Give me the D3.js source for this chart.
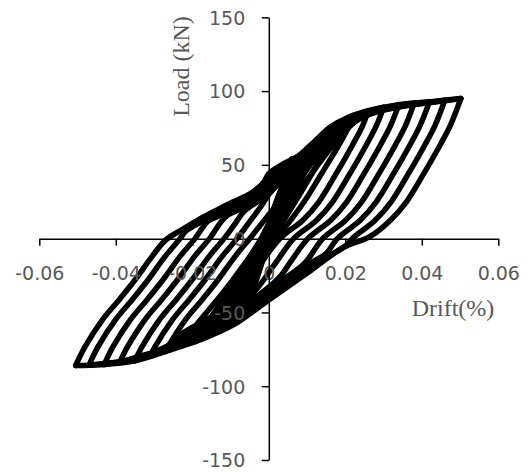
<!DOCTYPE html>
<html><head><meta charset="utf-8">
<script src="https://cdn.jsdelivr.net/npm/d3@7"></script>
<style>body{margin:0;background:#fff} svg{display:block}</style>
</head><body><svg id="c" width="530" height="472"></svg>
<script>
const xTicks = [-0.06,-0.04,-0.02,0,0.02,0.04,0.06];
const yTicks = [-150,-100,-50,0,50,100,150];
const xTitle = "Drift(%)";
const yTitle = "Load (kN)";

// Hysteresis loops: [drift, load], one half-cycle per array
const virgin = [[0,0],[0.003,28],[0.006,53.9]];
const down11 = [[0.006,53.9],[0.0045,41],[0.0025,24],[0.0005,5],[-0.0015,-14],[-0.0035,-30],[-0.0055,-44],[-0.007,-54.3]];
const up11 = [[-0.007,-54.3],[-0.006,-44],[-0.0045,-30],[-0.0025,-13],[-0.0005,5],[0.0015,22],[0.004,38],[0.007,50],[0.010,61.1]];
const down10 = [[0.010,61.1],[0.0085,51],[0.0055,33],[0.0025,14],[0,-2],[-0.003,-20],[-0.0065,-40],[-0.011,-60.5]];
const up10 = [[-0.011,-60.5],[-0.0095,-50],[-0.0065,-32],[-0.0035,-14],[-0.001,2],[0.002,20],[0.0055,38],[0.009,53],[0.012,63],[0.014,70.7]];
const down9 = [[0.014,70.7],[0.0125,61],[0.009,43],[0.005,23],[0.0015,5],[-0.002,-13],[-0.006,-32],[-0.0105,-50],[-0.015,-65.1]];
const up9 = [[-0.015,-65.1],[-0.0125,-52],[-0.009,-36],[-0.0055,-18],[-0.002,0],[0.002,20],[0.006,38],[0.01,54],[0.014,67],[0.018,78.4]];
const down8 = [[0.018,78.4],[0.0165,69],[0.013,52],[0.009,34],[0.005,17],[0.001,0],[-0.003,-16],[-0.007,-32],[-0.011,-47],[-0.015,-59],[-0.019,-69.5]];
const up8 = [[-0.019,-69.5],[-0.0155,-55],[-0.011,-37],[-0.0065,-19],[-0.002,0],[0.002,16],[0.006,32],[0.01,47],[0.014,60],[0.018,72],[0.022,83.3]];
const down7 = [[0.022,83.3],[0.0205,74],[0.018,62],[0.014,45],[0.0095,26],[0.005,10],[0,-6],[-0.005,-22],[-0.01,-38],[-0.015,-53],[-0.019,-64],[-0.023,-73]];
const up7 = [[-0.023,-73],[-0.0185,-57],[-0.014,-43],[-0.01,-30],[-0.0055,-14],[-0.0015,0],[0.002,12],[0.006,26],[0.01,40],[0.014,54],[0.018,67],[0.022,78],[0.026,86.6]];
const down6 = [[0.026,86.6],[0.0246,77],[0.022,64],[0.0176,44],[0.0131,25],[0.0089,12.5],[0.0029,0],[-0.0035,-22],[-0.0097,-44],[-0.0179,-57],[-0.0235,-66],[-0.027,-76.4]];
const up6 = [[-0.027,-76.4],[-0.0263,-73],[-0.0218,-55],[-0.0173,-41],[-0.0133,-28],[-0.0088,-12],[-0.005,0],[-0.001,13],[0.003,26],[0.007,39],[0.011,51],[0.015,63],[0.019,73],[0.023,80],[0.027,85.5],[0.03,89]];
const down5 = [[0.03,89],[0.0282,77],[0.0256,64],[0.0212,44],[0.0167,25],[0.0125,12.5],[0.0065,0],[0.0015,-17.5],[-0.0038,-36],[-0.0093,-48],[-0.0179,-61],[-0.0225,-67],[-0.027,-73.5],[-0.031,-79.6]];
const up5 = [[-0.031,-79.6],[-0.0297,-73],[-0.0252,-55],[-0.0207,-41],[-0.0167,-28],[-0.0122,-12],[-0.0083,0],[-0.005,11.5],[-0.0018,22.8],[0,30],[0.003,38],[0.0077,47.5],[0.0116,57],[0.016,69],[0.0205,78],[0.025,83],[0.029,86.5],[0.034,90.8]];
const down4 = [[0.034,90.8],[0.0319,77],[0.0293,64],[0.0249,44],[0.0204,25],[0.0162,12.5],[0.0102,0],[0.006,-14.5],[0.0025,-27],[-0.0093,-50.5],[-0.0179,-63.5],[-0.0265,-73],[-0.031,-78],[-0.035,-82.7]];
const up4 = [[-0.035,-82.7],[-0.0331,-73],[-0.0286,-55],[-0.0241,-41],[-0.0201,-28],[-0.0156,-12],[-0.0117,0],[-0.009,9.5],[-0.0063,18.9],[-0.0014,28],[0,33],[0.003,40.5],[0.0077,49.5],[0.0116,59],[0.016,71],[0.0205,79],[0.025,84],[0.029,86.5],[0.0344,89.5],[0.038,91.8]];
const down3 = [[0.038,91.8],[0.0358,77],[0.0332,64],[0.0288,44],[0.0243,25],[0.0201,12.5],[0.0141,0],[0.0091,-17.4],[0,-34],[-0.0093,-52.5],[-0.0179,-65],[-0.0265,-74],[-0.0354,-81],[-0.039,-84]];
const up3 = [[-0.039,-84],[-0.0369,-73],[-0.0324,-55],[-0.0279,-41],[-0.0239,-28],[-0.0194,-12],[-0.0155,0],[-0.0112,15],[-0.0048,23],[-0.0014,30.5],[0,36.5],[0.003,43],[0.0077,51],[0.0116,60.5],[0.016,72],[0.0205,79.5],[0.025,84],[0.029,87],[0.0344,89.5],[0.042,92.8]];
const down2 = [[0.042,92.8],[0.0396,77],[0.037,64],[0.0326,44],[0.0281,25],[0.0239,12.5],[0.0179,0],[0.015,-10],[0.011,-16.5],[0,-36.5],[-0.0093,-54.5],[-0.0179,-66],[-0.0265,-74.5],[-0.0354,-81.5],[-0.043,-85.2]];
const up2 = [[-0.043,-85.2],[-0.0407,-73],[-0.0362,-55],[-0.0317,-41],[-0.0277,-28],[-0.0232,-12],[-0.0193,0],[-0.0159,11.9],[-0.0135,14.8],[-0.0093,20],[-0.0048,25.5],[-0.0014,33],[0,39.5],[0.003,45.5],[0.0077,53],[0.0116,62],[0.016,73],[0.0205,80],[0.025,84.5],[0.029,87],[0.0344,89.5],[0.04,91.5],[0.046,93.8]];
const down1 = [[0.046,93.8],[0.0435,77],[0.0409,64],[0.0365,44],[0.032,25],[0.0278,12.5],[0.0218,0],[0.0205,-4],[0.011,-19],[0,-39],[-0.0093,-56.5],[-0.0179,-67],[-0.0265,-75],[-0.0354,-82],[-0.044,-84.8],[-0.047,-85.7]];
const up1 = [[-0.047,-85.7],[-0.0446,-73],[-0.0401,-55],[-0.0356,-41],[-0.0316,-28],[-0.0271,-12],[-0.0232,0],[-0.0218,4.9],[-0.0179,11],[-0.0135,17],[-0.0093,22.5],[-0.0048,28],[-0.0014,35.5],[0,41.5],[0.003,47.5],[0.0077,54.5],[0.0116,63.5],[0.016,74],[0.0205,80.5],[0.025,85],[0.029,87.5],[0.0344,90],[0.043,92.5],[0.0502,95]];
const down0 = [[0.0502,95],[0.0475,77],[0.0449,64],[0.0405,44],[0.036,25],[0.0318,12.5],[0.0265,1.5],[0.0195,-6],[0.011,-21.5],[0,-41.5],[-0.0093,-58.5],[-0.0179,-68.5],[-0.0265,-76],[-0.0354,-83],[-0.044,-85.5],[-0.0505,-86]];
const up0 = [[-0.0505,-86],[-0.048,-73],[-0.0435,-55],[-0.039,-41],[-0.035,-28],[-0.0305,-12],[-0.027,-1],[-0.0224,6.5],[-0.0179,13.5],[-0.0135,19.5],[-0.0093,25],[-0.0048,30.5],[-0.0014,38],[0,44],[0.003,49.5],[0.0077,56],[0.0116,65],[0.016,75.5],[0.0205,82],[0.025,86],[0.029,88.5],[0.0344,91],[0.043,93],[0.0502,95]];

const halfCycles = [virgin, down11, up11, down10, up10, down9, up9, down8, up8, down7, up7,
  down6, up6, down5, up5, down4, up4, down3, up3, down2, up2, down1, up1, down0, up0];

const svg = d3.select("#c");
const x = d3.scaleLinear().domain([-0.06, 0.06]).range([39.3, 498.3]);
const y = d3.scaleLinear().domain([-150, 150]).range([460, 17.3]);

const line = d3.line()
  .x(d => x(d[0])).y(d => y(d[1]))
  .curve(d3.curveCatmullRom.alpha(0.5));

svg.append("g").selectAll("path").data(halfCycles).join("path")
  .attr("d", line)
  .attr("fill", "none")
  .attr("stroke", "#000")
  .attr("stroke-width", 5.5)
  .attr("stroke-linejoin", "round")
  .attr("stroke-linecap", "round");

const labelFont = "'DejaVu Sans', sans-serif";

const gx = svg.append("g").attr("transform", `translate(0,${y(0)})`)
  .call(d3.axisBottom(x).tickValues(xTicks).tickSize(7).tickSizeOuter(0)
    .tickFormat(d => d === 0 ? "0" : d.toFixed(2)));
gx.select(".domain").attr("stroke", "#000").attr("stroke-width", 1.5);
gx.selectAll(".tick line").attr("stroke", "#000").attr("stroke-width", 1.5);
gx.selectAll(".tick text").attr("y", 41.4).attr("dy", 0)
  .attr("fill", "#595959").style("font-family", labelFont).style("font-size", "19px");

const gy = svg.append("g").attr("transform", `translate(${x(0)},0)`)
  .call(d3.axisLeft(y).tickValues(yTicks).tickSize(7).tickSizeOuter(0)
    .tickFormat(d => String(d)));
gy.select(".domain").attr("stroke", "#000").attr("stroke-width", 1.5);
gy.selectAll(".tick line").attr("stroke", "#000").attr("stroke-width", 1.5);
gy.selectAll(".tick text").attr("x", -23.5).attr("dy", "0.36em")
  .attr("fill", "#595959").style("font-family", labelFont).style("font-size", "19px");

svg.append("text").attr("x", 453).attr("y", 316).attr("text-anchor", "middle")
  .attr("fill", "#595959").style("font-family", "'Liberation Serif', 'Times New Roman', serif")
  .style("font-size", "24px").text(xTitle);

svg.append("text").attr("transform", "translate(189,66.5) rotate(-90)").attr("text-anchor", "middle")
  .attr("fill", "#595959").style("font-family", "'Liberation Serif', 'Times New Roman', serif")
  .style("font-size", "24px").text(yTitle);
</script>
</body></html>
